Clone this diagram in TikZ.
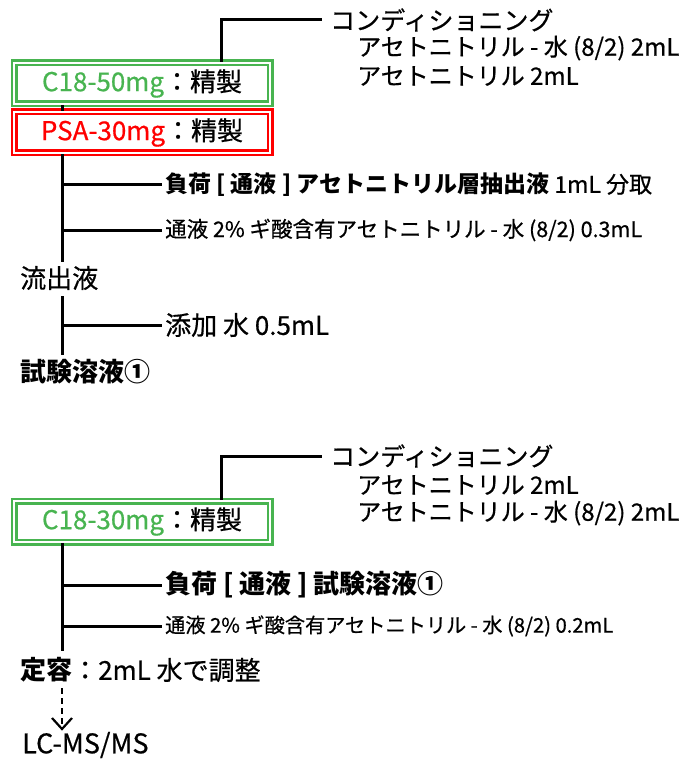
\documentclass[tikz,border=0pt]{standalone}
\usepackage{fontspec}
\setmainfont{Noto Sans CJK JP}[UprightFeatures={FakeBold=0.6}]
\usetikzlibrary{arrows.meta}
\definecolor{boxgreen}{RGB}{72,180,80}
\definecolor{boxred}{RGB}{255,0,0}
\newcommand{\fsz}[1]{\fontsize{#1}{#1}\selectfont}
\begin{document}
\begin{tikzpicture}[x=1pt,y=-1pt,
  lbl/.style={anchor=west, inner sep=0pt, font=\fsz{24}},
  ln/.style={line width=3pt},
  dbox/.style={draw=#1, double=white, line width=2.2pt, double distance=2.6pt,
    minimum width=256pt, minimum height=41pt, inner sep=0pt, font=\fsz{26}}]
\useasboundingbox (0,0) rectangle (688,759);

% ---------- part 1 ----------
\node[lbl, font=\fsz{25}] (cond1) at (330,20) {コンディショニング};
\node[lbl] (c1a) at (357,48) {アセトニトリル - 水 (8/2) 2mL};
\node[lbl] (c1b) at (357,76) {アセトニトリル 2mL};

\node[dbox=boxgreen] (b1) at (142,83.5) {\textcolor{boxgreen}{C18-50mg}：精製};
\node[dbox=boxred] (b2) at (142,132.5) {\textcolor{boxred}{PSA-30mg}：精製};

\node[lbl, font=\fsz{23}] (t1) at (165,185) {\textbf{負荷 [ 通液 ] アセトニトリル層抽出液} 1mL 分取};
\node[lbl, font=\fsz{21.5}] (t2) at (165,230) {通液 2\% ギ酸含有アセトニトリル - 水 (8/2) 0.3mL};
\node[lbl, font=\fsz{26}] (flow) at (20,278) {流出液};
\node[lbl, font=\fsz{26}] (t3) at (165,325) {添加 水 0.5mL};
\node[lbl, font=\fsz{26}] (res1) at (20,372) {\textbf{試験溶液①}};

\coordinate (s1) at (62,262);
\coordinate (s2) at (62,296);
\coordinate (s3) at (62,355);

\draw[ln] ([xshift=79pt]b1.north) |- ([xshift=-8pt]cond1.west);
\draw[ln] ([xshift=-80pt]b1.south) -- ([xshift=-80pt]b2.north);
\draw[ln] ([xshift=-80pt]b2.south) -- (s1);
\draw[ln] (s2) -- (s3);
\draw[ln, shorten >=3pt] (t1.west -| s1) -- (t1.west);
\draw[ln, shorten >=3pt] (t2.west -| s1) -- (t2.west);
\draw[ln, shorten >=3pt] (t3.west -| s1) -- (t3.west);

% ---------- part 2 ----------
\node[lbl, font=\fsz{25}] (cond2) at (330,456) {コンディショニング};
\node[lbl] (c2a) at (357,485) {アセトニトリル 2mL};
\node[lbl] (c2b) at (357,513) {アセトニトリル - 水 (8/2) 2mL};

\node[dbox=boxgreen] (b3) at (142,521.5) {\textcolor{boxgreen}{C18-30mg}：精製};

\node[lbl, font=\fsz{26}] (t4) at (165,585) {\textbf{負荷 [ 通液 ] 試験溶液①}};
\node[lbl, font=\fsz{20.2}] (t5) at (165,626) {通液 2\% ギ酸含有アセトニトリル - 水 (8/2) 0.2mL};
\node[lbl, font=\fsz{26}] (vol) at (20,670) {\textbf{定容}：2mL 水で調整};
\node[lbl, font=\fsz{27}] (lcms) at (22,745) {LC-MS/MS};

\coordinate (s4) at (62,651);
\coordinate (a1) at (62,688);
\coordinate (a2) at (62,729);

\draw[ln] ([xshift=79pt]b3.north) |- ([xshift=-8pt]cond2.west);
\draw[ln] ([xshift=-80pt]b3.south) -- (s4);
\draw[ln, shorten >=3pt] (t4.west -| s4) -- (t4.west);
\draw[ln, shorten >=3pt] (t5.west -| s4) -- (t5.west);
\draw[line width=2.2pt, dash pattern=on 6pt off 4pt] (a1) -- ([yshift=2pt]a2);
\draw[line width=2.2pt, line join=miter] ([xshift=-10pt,yshift=11pt]a2) -- (a2) -- ([xshift=10pt,yshift=11pt]a2);
\end{tikzpicture}
\end{document}
